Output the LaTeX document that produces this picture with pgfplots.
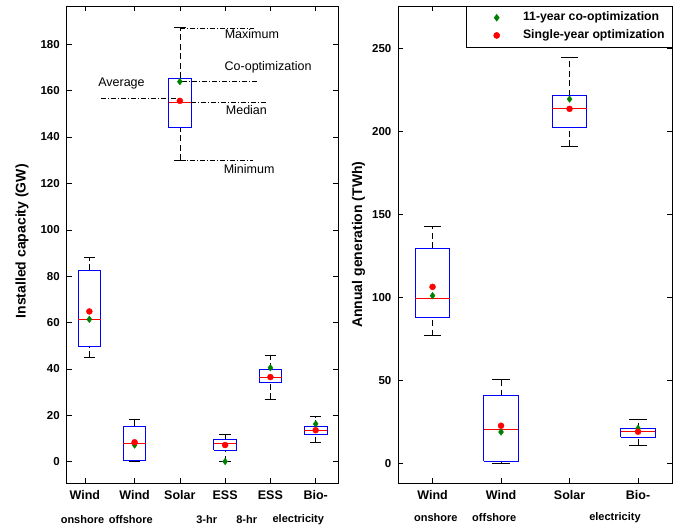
\documentclass[border=0pt]{standalone}
\usepackage{fontspec}
\setmainfont{Liberation Sans}
\usepackage{pgfplots}
\pgfplotsset{compat=1.18}
\definecolor{mgreen}{rgb}{0,0.5,0}
\pgfplotsset{
  boxst/.style={blue, line width=0.9pt, line join=miter, forget plot},
  whisk/.style={black, line width=0.7pt, dash pattern=on 6pt off 3.5pt, forget plot},
  capst/.style={black, line width=0.8pt, forget plot},
  medst/.style={red, line width=0.8pt, forget plot},
  annot/.style={black, line width=0.5pt, dash pattern=on 5pt off 2pt on 1pt off 2pt, forget plot},
  common/.style={
    scale only axis, anchor=south west,
    tick align=inside, major tick length=5pt,
    axis line style={black, line width=0.8pt},
    every tick/.style={black, line width=0.6pt},
    unbounded coords=jump,
    /pgf/number format/assume math mode=true,
    xticklabel style={font=\bfseries\fontsize{12.5}{14}\selectfont, yshift=-4pt},
    yticklabel style={font=\bfseries\fontsize{11.5}{13}\selectfont, xshift=-3.4pt},
  },
}
\begin{document}
\begin{tikzpicture}
\useasboundingbox (0,0) rectangle (678pt,527pt);
% ---------------- Left: installed capacity ----------------
\begin{axis}[common,
  at={(66.7pt,43.7pt)}, width=271.6pt, height=477.3pt,
  xmin=0.5, xmax=6.5, ymin=-9.3, ymax=196.5,
  xtick={0.9,2,3,4,5,6}, xticklabels={Wind,Wind,Solar,ESS,ESS,Bio-},
  ytick={0,20,...,180},
  ylabel={Installed capacity (GW)},
  ylabel style={font=\bfseries\fontsize{14}{16}\selectfont, at={(axis description cs:-0.165,0.507)}, anchor=center},
]
% whiskers
\addplot[whisk] coordinates {
(1,82.5)(1,88.1) (1,nan) (1,45.1)(1,49.9) (1,nan)
(2,15.3)(2,18.4) (2,nan) (2,0)(2,0.4) (2,nan)
(3,165.3)(3,187.1) (3,nan) (3,129.9)(3,144.0) (3,nan)
(4,9.7)(4,11.9) (4,nan) (4,0)(4,5.0) (4,nan)
(5,39.9)(5,46.0) (5,nan) (5,27.0)(5,34.2) (5,nan)
(6,15.3)(6,19.5) (6,nan) (6,8.2)(6,11.9)
};
% caps
\addplot[capst] coordinates {
(0.875,88.1)(1.125,88.1) (1,nan) (0.875,45.1)(1.125,45.1) (1,nan)
(1.875,18.4)(2.125,18.4) (2,nan) (1.875,0)(2.125,0) (2,nan)
(2.875,187.1)(3.125,187.1) (3,nan) (2.875,129.9)(3.125,129.9) (3,nan)
(3.875,11.9)(4.125,11.9) (4,nan) (3.875,0)(4.125,0) (4,nan)
(4.875,46.0)(5.125,46.0) (5,nan) (4.875,27.0)(5.125,27.0) (5,nan)
(5.875,19.5)(6.125,19.5) (6,nan) (5.875,8.2)(6.125,8.2)
};
% boxes
\addplot[boxst] coordinates {
(0.75,49.9)(1.25,49.9)(1.25,82.5)(0.75,82.5)(0.75,49.9) (1,nan)
(1.75,0.4)(2.25,0.4)(2.25,15.3)(1.75,15.3)(1.75,0.4) (2,nan)
(2.75,144.0)(3.25,144.0)(3.25,165.3)(2.75,165.3)(2.75,144.0) (3,nan)
(3.75,5.0)(4.25,5.0)(4.25,9.7)(3.75,9.7)(3.75,5.0) (4,nan)
(4.75,34.2)(5.25,34.2)(5.25,39.9)(4.75,39.9)(4.75,34.2) (5,nan)
(5.75,11.9)(6.25,11.9)(6.25,15.3)(5.75,15.3)(5.75,11.9)
};
% medians
\addplot[medst] coordinates {
(0.75,61.4)(1.25,61.4) (1,nan)
(1.75,8.0)(2.25,8.0) (2,nan)
(2.75,155.1)(3.25,155.1) (3,nan)
(3.75,7.8)(4.25,7.8) (4,nan)
(4.75,36.3)(5.25,36.3) (5,nan)
(5.75,13.5)(6.25,13.5)
};
% annotation guide lines
\addplot[annot] coordinates {
(3.0,187.1)(4.64,187.1) (4,nan)
(3.05,163.9)(4.73,163.9) (4,nan)
(1.26,156.6)(3.0,156.6) (2,nan)
(3.25,155.1)(4.95,155.1) (4,nan)
(3.0,129.9)(4.62,129.9)
};
% co-optimization and single-year values
\addplot[only marks, mark=diamond*, mark size=3.3pt, mgreen, forget plot] coordinates {
(1,61.4) (2,7.2) (3,163.9) (4,0.1) (5,40.5) (6,16.3)
};
\addplot[only marks, mark=*, mark size=3pt, red, forget plot] coordinates {
(1,64.8) (2,8.4) (3,155.6) (4,7.2) (5,36.5) (6,13.6)
};
\node[font=\fontsize{12.5}{14}\selectfont] at (axis cs:4.59,184.2) {Maximum};
\node[font=\fontsize{12.5}{14}\selectfont] at (axis cs:4.95,169.9) {Co-optimization};
\node[font=\fontsize{12.5}{14}\selectfont] at (axis cs:1.71,163.2) {Average};
\node[font=\fontsize{12.5}{14}\selectfont] at (axis cs:4.47,151.7) {Median};
\node[font=\fontsize{12.5}{14}\selectfont] at (axis cs:4.53,126.3) {Minimum};
\end{axis}
% ---------------- Right: annual generation ----------------
\begin{axis}[common,
  at={(398.3pt,43.7pt)}, width=274pt, height=477.3pt,
  xmin=0.5, xmax=4.5, ymin=-12.2, ymax=275.5,
  xtick={1,2,3,4}, xticklabels={Wind,Wind,Solar,Bio-},
  ytick={0,50,...,250},
  ylabel={Annual generation (TWh)},
  ylabel style={font=\bfseries\fontsize{14}{16}\selectfont, at={(axis description cs:-0.145,0.5)}, anchor=center},
  legend style={at={(rel axis cs:1,1)}, anchor=north east, draw=black, line width=0.6pt,
    fill=white, font=\bfseries\fontsize{12.25}{14}\selectfont,
    inner xsep=4.5pt, inner ysep=2.6pt, column sep=0pt, row sep=0pt,
    nodes={inner sep=2.85pt, text height=9pt, text depth=3pt}},
  legend cell align=left,
  legend image code/.code={\path[draw=none] (0pt,-3pt) rectangle (49pt,3pt); \draw[#1] plot coordinates {(25.5pt,0pt)};},
]
\addplot[whisk] coordinates {
(1,129.5)(1,142.5) (1,nan) (1,76.8)(1,87.9) (1,nan)
(2,40.6)(2,50.7) (2,nan) (2,0)(2,1.2) (2,nan)
(3,221.4)(3,244.7) (3,nan) (3,191.0)(3,202.1) (3,nan)
(4,20.7)(4,26.5) (4,nan) (4,10.8)(4,15.5)
};
\addplot[capst] coordinates {
(0.875,142.5)(1.125,142.5) (1,nan) (0.875,76.8)(1.125,76.8) (1,nan)
(1.875,50.7)(2.125,50.7) (2,nan) (1.875,0)(2.125,0) (2,nan)
(2.875,244.7)(3.125,244.7) (3,nan) (2.875,191.0)(3.125,191.0) (3,nan)
(3.875,26.5)(4.125,26.5) (4,nan) (3.875,10.8)(4.125,10.8)
};
\addplot[boxst] coordinates {
(0.75,87.9)(1.25,87.9)(1.25,129.5)(0.75,129.5)(0.75,87.9) (1,nan)
(1.75,1.2)(2.25,1.2)(2.25,40.6)(1.75,40.6)(1.75,1.2) (2,nan)
(2.75,202.1)(3.25,202.1)(3.25,221.4)(2.75,221.4)(2.75,202.1) (3,nan)
(3.75,15.5)(4.25,15.5)(4.25,20.7)(3.75,20.7)(3.75,15.5)
};
\addplot[medst] coordinates {
(0.75,99.5)(1.25,99.5) (1,nan)
(1.75,20.5)(2.25,20.5) (2,nan)
(2.75,213.7)(3.25,213.7) (3,nan)
(3.75,18.9)(4.25,18.9)
};
\addplot[only marks, mark=diamond*, mark size=3.3pt, mgreen] coordinates {
(1,100.9) (2,18.7) (3,219.4) (4,20.9)
};
\addlegendentry{11-year co-optimization}
\addplot[only marks, mark=*, mark size=3pt, red] coordinates {
(1,106.2) (2,22.5) (3,213.5) (4,18.9)
};
\addlegendentry{Single-year optimization}
\end{axis}
% second line of the category labels
\begin{scope}[every node/.style={font=\bfseries\fontsize{11}{13}\selectfont}]
\node at (82.5pt,7pt) {onshore};
\node at (130.8pt,7pt) {offshore};
\node at (206.7pt,7pt) {3-hr};
\node at (246.7pt,7pt) {8-hr};
\node at (298.3pt,7pt) {electricity};
\node at (435.8pt,9.3pt) {onshore};
\node at (494.2pt,9.3pt) {offshore};
\node at (615pt,9.3pt) {electricity};
\end{scope}
\end{tikzpicture}
\end{document}
